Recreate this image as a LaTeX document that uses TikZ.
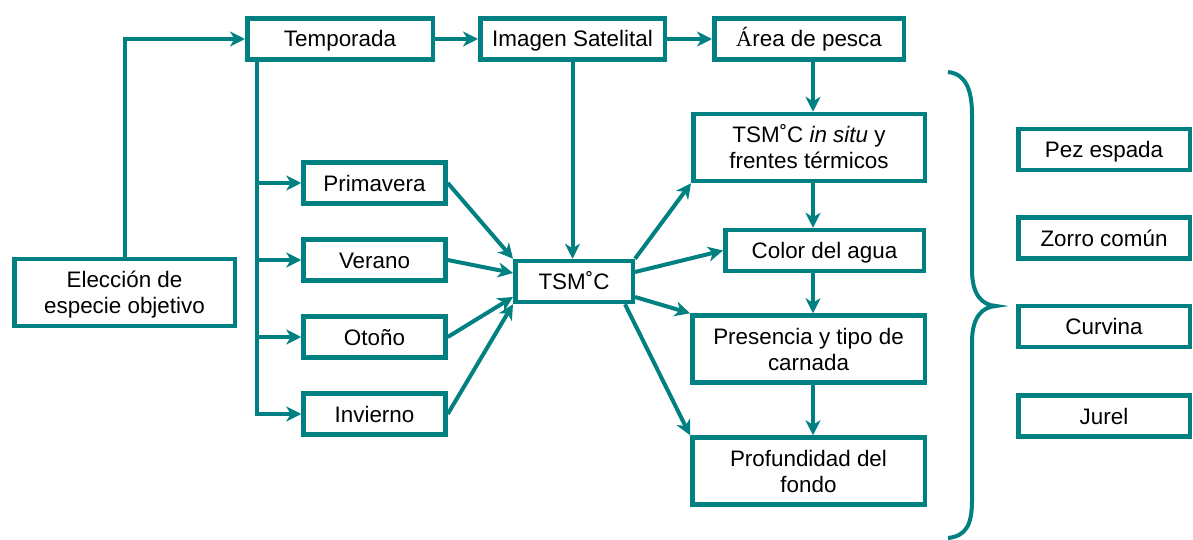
\documentclass[tikz,border=0pt]{standalone}
\usepackage{fontspec}
\setmainfont{Liberation Sans}
\newfontfamily\serifaccent{Liberation Serif}
\usepackage{tikz}
\usetikzlibrary{arrows.meta, positioning}
\definecolor{seateal}{HTML}{008080}

\begin{document}
\begin{tikzpicture}[
    x=1pt, y=-1pt,
    every node/.style={font=\fontsize{22.4}{26}\selectfont},
    box/.style={
        rectangle, draw=seateal, line width=4.5pt, fill=white,
        align=center, inner sep=0pt, minimum height=41pt,
        text height=18pt, text depth=2pt
    },
    tallbox/.style={box, minimum height=67pt, text height=44pt},
    seasonbox/.style={box, minimum width=142pt},
    fishbox/.style={box, minimum width=171.5pt},
    arrow/.style={-{Stealth[length=15pt, width=15pt, inset=4.5pt]}, line width=4pt, draw=seateal},
    link/.style={line width=4pt, draw=seateal}
]
\useasboundingbox (0,0) rectangle (1193,540);

% Left column
\node[tallbox, minimum width=220.5pt] (eleccion) at (124.5,292.5) {Elección de\\especie objetivo};

% Top row
\node[box, minimum width=185.5pt] (temporada) at (340,39) {Temporada};
\node[box, minimum width=184.5pt, right=43pt of temporada] (imagen) {Imagen Satelital};
\node[box, minimum width=189.5pt, right=45pt of imagen] (area) {{\serifaccent Á}rea de pesca};

% Seasons
\node[seasonbox] (primavera) at (374.5,183) {Primavera};
\node[seasonbox, below=31.5pt of primavera] (verano) {Verano};
\node[seasonbox, below=31.5pt of verano] (otono) {Otoño};
\node[seasonbox, below=31.5pt of otono] (invierno) {Invierno};

% Centre
\node[box, minimum width=117.5pt] (tsm) at (574,281.5) {TSM˚C};

% Right column
\node[tallbox, minimum width=231.5pt] (insitu) at (809,147.5) {TSM˚C \textit{in situ} y\\frentes térmicos};
\node[box, minimum width=198.5pt] (color) at (824.5,250.5) {Color del agua};
\node[tallbox, minimum width=232.5pt] (presencia) at (808.5,349) {Presencia y tipo de\\carnada};
\node[tallbox, minimum width=232.5pt] (profundidad) at (808.5,471) {Profundidad del\\fondo};

% Species
\node[fishbox] (pez) at (1104,149.5) {Pez espada};
\node[fishbox, below=43pt of pez] (zorro) {Zorro común};
\node[fishbox, below=43pt of zorro] (curvina) {Curvina};
\node[fishbox, below=44pt of curvina] (jurel) {Jurel};

\coordinate (trunk) at (257,0);
\coordinate (spine) at (813,0);

% Arrows
\draw[arrow] (eleccion.north) |- (temporada.west);
\draw[arrow] (temporada) -- (imagen);
\draw[arrow] (imagen) -- (area);
\foreach \season in {primavera, verano, otono, invierno}
    \draw[arrow] (temporada.south -| trunk) |- (\season.west);
\draw[arrow] (primavera.east) -- (tsm.north west);
\draw[arrow] (verano.east) -- ([yshift=8.5pt]tsm.west);
\draw[arrow] (otono.east) -- ([yshift=-15.5pt]tsm.west);
\draw[arrow] (invierno.east) -- (tsm.south west);
\draw[arrow] (imagen.south) -- (imagen.south |- tsm.north);
\draw[arrow] (area.south -| spine) -- (insitu.north -| spine);
\draw[arrow] (insitu.south -| spine) -- (color.north -| spine);
\draw[arrow] (color.south -| spine) -- (presencia.north -| spine);
\draw[arrow] (presencia.south -| spine) -- (profundidad.north -| spine);
\draw[arrow] (tsm.north east) -- (insitu.south west);
\draw[arrow] ([yshift=9.5pt]tsm.east) -- (color.west);
\draw[arrow] ([yshift=-15.5pt]tsm.east) -- (presencia.north west);
\draw[arrow] ([xshift=-10pt]tsm.south east) -- (profundidad.north west);

% Brace
\draw[link] (948,72) .. controls (966,74) and (972,90) .. (972,115)
    -- (972,270) .. controls (972,295) and (982,305) .. (996,306)
    .. controls (982,307) and (972,317) .. (972,342)
    -- (972,500) .. controls (972,525) and (966,536) .. (948,538);

\end{tikzpicture}
\end{document}
